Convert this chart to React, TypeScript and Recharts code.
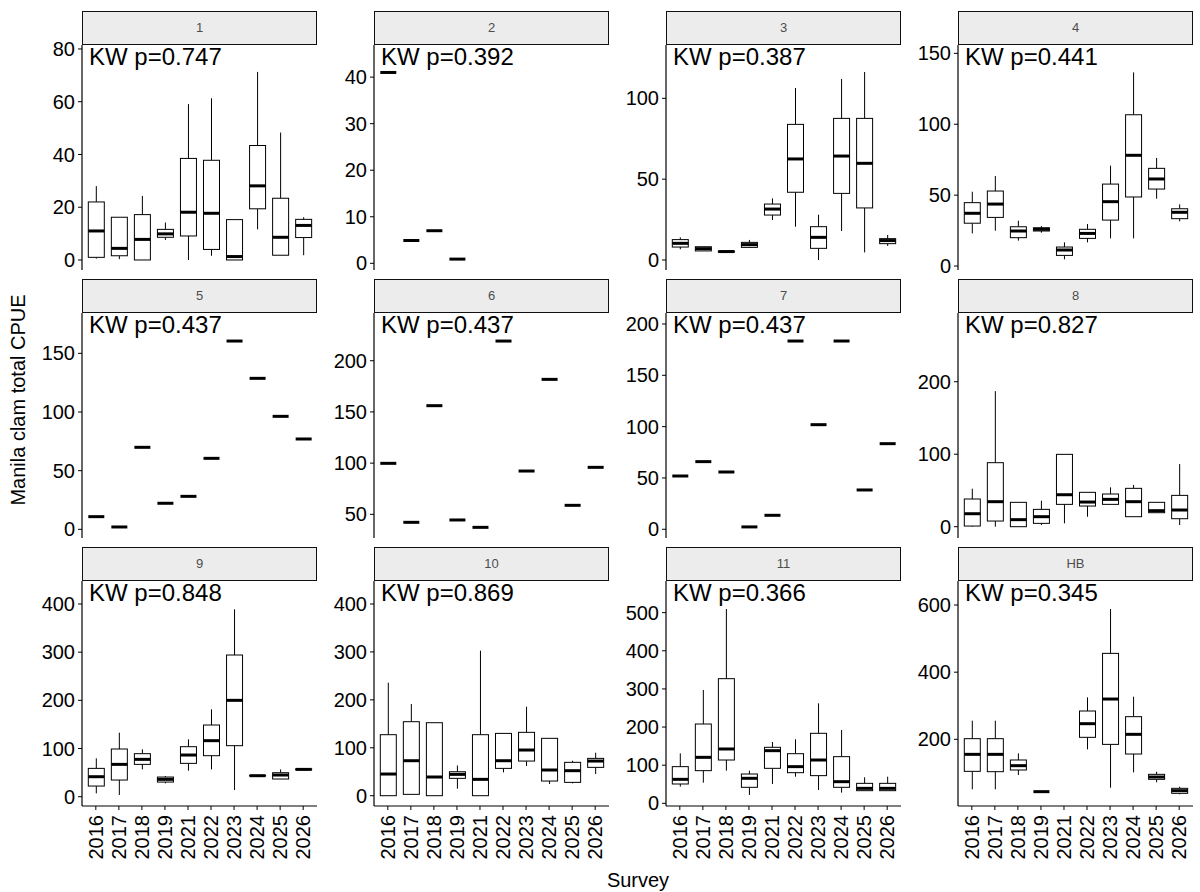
import React from 'react';
import { BarChart, Bar, XAxis, YAxis } from 'recharts';

const years = ['2016', '2017', '2018', '2019', '2021', '2022', '2023', '2024', '2025', '2026'];
const sites = ['1', '2', '3', '4', '5', '6', '7', '8', '9', '10', '11', 'HB'];
const kwP = ['0.747', '0.392', '0.387', '0.441', '0.437', '0.437', '0.437', '0.827', '0.848', '0.869', '0.366', '0.345'];

// per survey year: [min, q1, median, q3, max], a single value when only one tow, null = no data
type Stats = number[] | null;

const site1: Stats[] = [
  [0.5, 1, 11, 22, 28],
  [0.3, 1.6, 4.4, 16.2, 16.2],
  [0, 0, 7.8, 17.2, 24.3],
  [7.6, 8.6, 9.9, 11.6, 14.2],
  [0, 9.1, 18.1, 38.5, 59.1],
  [1.6, 4, 17.7, 37.8, 61.3],
  [0, 0, 1.3, 15.3, 15.3],
  [11.6, 19.4, 28.1, 43.4, 71.3],
  [1.8, 1.8, 8.6, 23.4, 48.3],
  [1.8, 8.5, 13.1, 15.4, 16.2],
];
const site2: Stats[] = [[41], [4.9], [7], [0.9], null, null, null, null, null, null];
const site3: Stats[] = [
  [6.6, 8, 10.3, 12.6, 14],
  [5.6, 5.6, 7, 8.2, 8.2],
  [4.8, 4.9, 5.2, 5.5, 5.6],
  [7.4, 7.8, 9.5, 10.9, 12.4],
  [24.7, 27.8, 31.5, 34.6, 38.1],
  [20.6, 41.9, 62.5, 83.9, 106.4],
  [0, 7.2, 14, 20.6, 28],
  [17.9, 41.2, 64.3, 87.6, 112],
  [4.7, 32.2, 59.8, 87.6, 116.3],
  [8.7, 10.1, 12, 13.2, 15.5],
];
const site4: Stats[] = [
  [23, 30.2, 37.2, 44.7, 52.4],
  [24.9, 34.3, 43.7, 52.9, 63.5],
  [17.9, 20, 24.7, 27.7, 32],
  [23.5, 24.7, 25.9, 27, 28.2],
  [4.7, 7.5, 11.3, 13.4, 16.7],
  [16.7, 19.5, 23, 25.9, 29.6],
  [19.5, 32.4, 45.4, 57.8, 70.8],
  [19.5, 48.7, 78.1, 106.7, 136.6],
  [47.5, 54.3, 61.4, 68.9, 76.2],
  [31.5, 33.4, 37.9, 40.4, 43.5],
];
const site5: Stats[] = [[10.8], [2], [69.9], [22.2], [28.1], [60.5], [160.5], [128.7], [96.3], [77]];
const site6: Stats[] = [[99.8], [42.2], [156.1], [44.5], [37.3], [219.2], [92.3], [181.8], [58.8], [95.9]];
const site7: Stats[] = [[51.9], [65.9], [55.8], [2.3], [13.6], [183.4], [101.9], [183.4], [38.3], [83.4]];
const site8: Stats[] = [
  [0, 0.9, 17.9, 38.2, 52.4],
  [0, 7.8, 34.5, 88.3, 187],
  [0, 0, 9.7, 33.6, 33.6],
  [2.3, 4.6, 13.8, 23.9, 35.9],
  [4.6, 30.8, 44.1, 99.8, 99.8],
  [13.8, 28.5, 34, 47.4, 47.4],
  [30.8, 30.8, 37.7, 45.1, 54.3],
  [13.8, 13.8, 34.5, 52.9, 57.5],
  [19.3, 19.3, 22.1, 33.6, 33.6],
  [2.3, 11, 23, 43.2, 86.4],
];
const site9: Stats[] = [
  [6.9, 22.1, 41.5, 58.8, 79.6],
  [3.5, 34.6, 67.1, 99, 132.9],
  [56.7, 67.1, 77.5, 89.3, 98.3],
  [27.7, 30.4, 36, 40.8, 42.9],
  [54, 69.2, 86.5, 103.8, 119],
  [56.7, 85.1, 116.3, 148.8, 181.3],
  [13.8, 105.9, 200, 294.1, 388.9],
  [43, 43.3, 43.6, 44, 44.5],
  [36.7, 36.7, 45, 49.8, 56.7],
  [55.5, 56, 56.7, 57.5, 58],
];
const site10: Stats[] = [
  [0, 0, 45.2, 127.3, 235.8],
  [2.8, 2.8, 73, 154.4, 191.3],
  [0, 0, 39, 152.3, 152.3],
  [14.6, 36.2, 44.5, 50, 63],
  [0, 0, 34.1, 127.3, 302.6],
  [48.7, 57, 73, 130, 130],
  [61.9, 72.3, 95.3, 132.2, 185.7],
  [24.3, 30.6, 53.6, 119.7, 119.7],
  [25.7, 27.8, 52.2, 69.6, 73],
  [45.2, 59.1, 72.3, 77.9, 89.7],
];
const site11: Stats[] = [
  [43.7, 50.7, 62.9, 96.2, 131],
  [54.2, 85.7, 120.6, 208, 297.2],
  [85.7, 113.6, 142.5, 326.9, 509.6],
  [21.9, 42, 65.6, 76.9, 85.7],
  [50.7, 91.8, 138.1, 146.9, 160.8],
  [69.9, 80.4, 96.2, 130.2, 167.8],
  [35, 72.6, 113.6, 183.6, 262.2],
  [28, 42, 56.8, 122.4, 192.3],
  [33.2, 33.2, 39.3, 52.4, 68.2],
  [33.2, 33.2, 39.3, 52.4, 69.9],
];
const siteHB: Stats[] = [
  [51.1, 104.7, 155.3, 202, 255.6],
  [51.1, 103.7, 155.3, 202, 255.6],
  [93.8, 108.7, 121.6, 138.5, 158.3],
  [44.2],
  null,
  [170.2, 206, 246.6, 284.4, 325],
  [56, 185, 320, 456, 588],
  [101.7, 156.3, 214.9, 267.5, 327],
  [72, 80.9, 87.8, 95.8, 103.7],
  [36.2, 39.2, 47.1, 54.1, 59],
];

const siteStats = [site1, site2, site3, site4, site5, site6, site7, site8, site9, site10, site11, siteHB];

// free y scales (ggplot expanded ranges)
const yDomains: [number, number][] = [
  [-3.8, 81.5], [-1.44, 46.9], [-6.2, 133], [-2.8, 155.9],
  [-7.4, 184.4], [26.9, 246.6], [-8.5, 210.7], [-15.6, 294.8],
  [-19.3, 447.7], [-21.5, 448], [-7, 583], [1.5, 671.5],
];
const yTicks = [
  [0, 20, 40, 60, 80], [0, 10, 20, 30, 40], [0, 50, 100], [0, 50, 100, 150],
  [0, 50, 100, 150], [50, 100, 150, 200], [0, 50, 100, 150, 200], [0, 100, 200],
  [0, 100, 200, 300, 400], [0, 100, 200, 300, 400], [0, 100, 200, 300, 400, 500], [200, 400, 600],
];

const FONT = '"Liberation Sans", Arial, sans-serif';
const PLOT_W = 235;
const PLOT_H = 225;
const STRIP_H = 34;
const Y_AXIS_W = 70;
const X_AXIS_H = 75;
const PAD = 14; // room so edge tick labels are not clipped

function BoxShape(props: any) {
  const { x, y, width, height, payload } = props;
  const s: Stats = payload?.stats;
  if (!s || x == null || y == null) return null;
  const top = Math.min(y, y + (height || 0));
  const bot = Math.max(y, y + (height || 0));
  const lo = s[0];
  const hi = s[s.length - 1];
  const py = (v: number) => (hi === lo ? top : bot - ((v - lo) / (hi - lo)) * (bot - top));
  const cx = x + width / 2;
  if (s.length === 1) {
    return <line x1={x} x2={x + width} y1={top} y2={top} stroke="#000" strokeWidth={3} />;
  }
  const [mn, q1, md, q3, mx] = s;
  return (
    <g>
      <line x1={cx} x2={cx} y1={py(mx)} y2={py(q3)} stroke="#000" strokeWidth={1} />
      <line x1={cx} x2={cx} y1={py(q1)} y2={py(mn)} stroke="#000" strokeWidth={1} />
      <rect x={x} y={py(q3)} width={width} height={Math.max(0, py(q1) - py(q3))} fill="#fff" stroke="#000" strokeWidth={1} />
      <line x1={x} x2={x + width} y1={py(md)} y2={py(md)} stroke="#000" strokeWidth={3} />
    </g>
  );
}

function YearTick(props: any) {
  const { x, y, payload } = props;
  return (
    <text
      x={x}
      y={y}
      transform={`rotate(-90 ${x} ${y})`}
      textAnchor="end"
      dy="0.36em"
      fontSize={20}
      fontFamily={FONT}
      fill="#000"
    >
      {payload.value}
    </text>
  );
}

function Panel({ idx }: { idx: number }) {
  const col = idx % 4;
  const row = Math.floor(idx / 4);
  const plotLeft = 82 + 292 * col;
  const stripTop = 11 + 268 * row;
  const plotTop = stripTop + STRIP_H;
  const bottomRow = row === 2;

  const data = years.map((yr, i) => {
    const s = siteStats[idx][i];
    return {
      year: yr,
      stats: s,
      range: s ? [s[0], s[s.length - 1]] : null,
    };
  });

  return (
    <>
      <div style={{ position: 'absolute', left: plotLeft - Y_AXIS_W, top: plotTop - PAD }}>
        <BarChart
          width={Y_AXIS_W + PLOT_W}
          height={PLOT_H + PAD + (bottomRow ? X_AXIS_H : PAD)}
          data={data}
          margin={{ top: PAD, right: 0, bottom: bottomRow ? 0 : PAD, left: 0 }}
        >
          <XAxis
            dataKey="year"
            type="category"
            hide={!bottomRow}
            height={X_AXIS_H}
            padding={{ left: 2.3, right: 2.3 }}
            interval={0}
            tickSize={4}
            tickMargin={5}
            axisLine={{ stroke: '#000', strokeWidth: 1.2 }}
            tickLine={{ stroke: '#000', strokeWidth: 1 }}
            tick={<YearTick />}
          />
          <YAxis
            type="number"
            domain={yDomains[idx]}
            ticks={yTicks[idx]}
            allowDataOverflow
            interval={0}
            width={Y_AXIS_W}
            tickSize={4}
            tickMargin={3}
            axisLine={{ stroke: '#000', strokeWidth: 1.2 }}
            tickLine={{ stroke: '#000', strokeWidth: 1 }}
            tick={{ fill: '#000', fontSize: 20, fontFamily: FONT }}
          />
          <Bar dataKey="range" barSize={16} shape={<BoxShape />} isAnimationActive={false} />
        </BarChart>
      </div>
      <div
        style={{
          position: 'absolute',
          left: plotLeft,
          top: stripTop,
          width: PLOT_W,
          height: STRIP_H,
          boxSizing: 'border-box',
          border: '1.5px solid #111',
          background: '#ececec',
          color: '#4d4d4d',
          fontSize: 13,
          lineHeight: `${STRIP_H - 3}px`,
          textAlign: 'center',
        }}
      >
        {sites[idx]}
      </div>
      <div
        style={{
          position: 'absolute',
          left: plotLeft + 7,
          top: plotTop,
          fontSize: 24,
          lineHeight: '24px',
          color: '#000',
          whiteSpace: 'nowrap',
        }}
      >
        KW p={kwP[idx]}
      </div>
    </>
  );
}

export default function App() {
  return (
    <div
      style={{
        position: 'absolute',
        left: 0,
        top: 0,
        width: 1200,
        height: 892,
        background: '#fff',
        fontFamily: FONT,
        overflow: 'hidden',
      }}
    >
      {sites.map((_, i) => (
        <Panel key={i} idx={i} />
      ))}
      <div
        style={{
          position: 'absolute',
          left: 18,
          top: 400,
          transform: 'translate(-50%, -50%) rotate(-90deg)',
          fontSize: 20,
          whiteSpace: 'nowrap',
          color: '#000',
        }}
      >
        Manila clam total CPUE
      </div>
      <div
        style={{
          position: 'absolute',
          left: 638,
          top: 880,
          transform: 'translate(-50%, -50%)',
          fontSize: 20,
          whiteSpace: 'nowrap',
          color: '#000',
        }}
      >
        Survey
      </div>
    </div>
  );
}
